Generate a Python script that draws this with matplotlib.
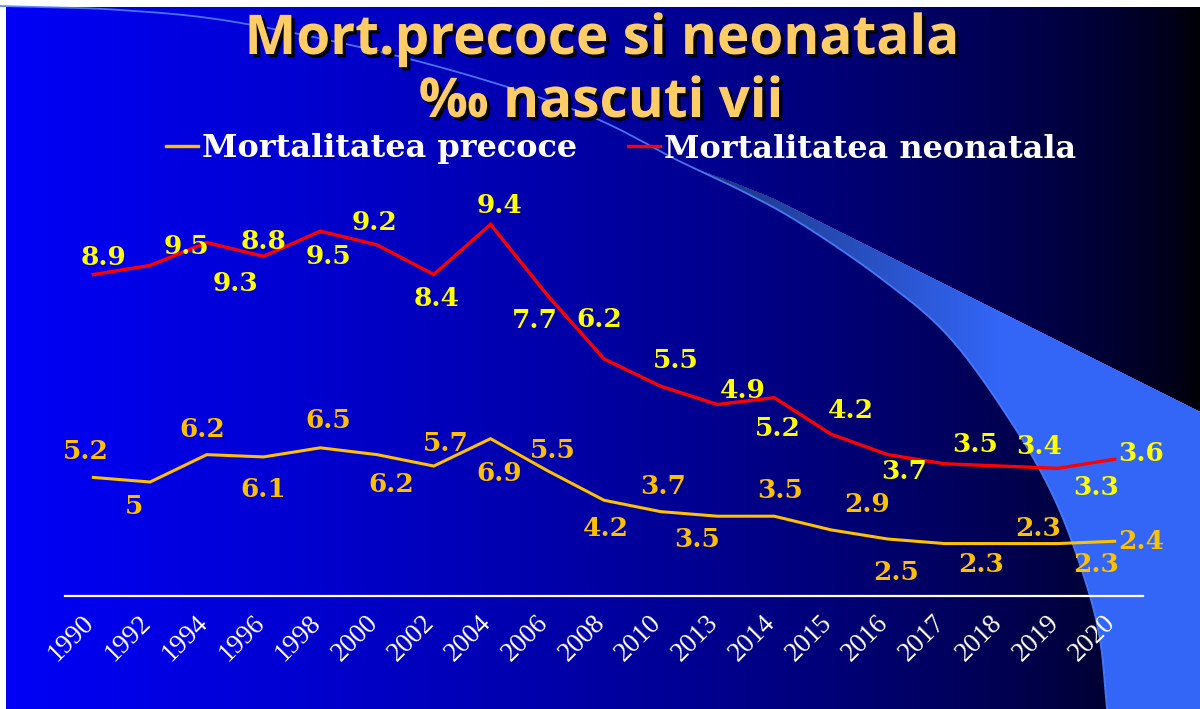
import numpy as np
import matplotlib
matplotlib.use("Agg")
import matplotlib.pyplot as plt
import matplotlib.patheffects as pe
import matplotlib.transforms as mtransforms
from matplotlib.lines import Line2D

# ---------------- data ----------------
years = ["1990", "1992", "1994", "1996", "1998", "2000", "2002", "2004", "2006", "2008",
         "2010", "2013", "2014", "2015", "2016", "2017", "2018", "2019", "2020"]
precoce = [5.2, 5, 6.2, 6.1, 6.5, 6.2, 5.7, 6.9, 5.5, 4.2, 3.7, 3.5, 3.5, 2.9, 2.5, 2.3, 2.3, 2.3, 2.4]
neonatala = [8.9, 9.5, 9.3, 8.8, 9.5, 9.2, 8.4, 9.4, 7.7, 6.2, 5.5, 4.9, 5.2, 4.2, 3.7, 3.5, 3.4, 3.3, 3.6]
series_names = ["Mortalitatea precoce", "Mortalitatea neonatala"]
title_lines = ["Mort.precoce si neonatala", "\u2030 nascuti vii"]

# ---------------- layout (label offsets in pixels: dx right, dy down) ----------------
prec_off = [(-8, -26), (-16, 24), (-5, -25), (0, 33), (8, -27), (14, 30), (12, -23), (9, 35), (6, -20),
            (2, 28), (2, -25), (-20, 23), (6, -26), (36, -25), (8, 34), (37, 21), (37, -15), (38, 21), (27, 0)]
neo_off = [(10, -17), (36, -19), (29, 41), (0, -15), (8, 25), (-3, -22), (3, 24), (9, -19), (-12, 25),
           (-5, -39), (15, -26), (25, -14), (4, 31), (20, -24), (16, 17), (31, -19), (38, -20), (38, 19), (26, -6)]

W, H = 1200, 709
fig = plt.figure(figsize=(12, 7.09), dpi=100)


def catmull(px, py, n=24):
    px = np.concatenate([[2 * px[0] - px[1]], px, [2 * px[-1] - px[-2]]])
    py = np.concatenate([[2 * py[0] - py[1]], py, [2 * py[-1] - py[-2]]])
    ox, oy = [], []
    tt = np.linspace(0, 1, n, endpoint=False)
    for i in range(1, len(px) - 2):
        for arr, o in ((px, ox), (py, oy)):
            p0, p1, p2, p3 = arr[i - 1], arr[i], arr[i + 1], arr[i + 2]
            o.extend(0.5 * ((2 * p1) + (-p0 + p2) * tt + (2 * p0 - 5 * p1 + 4 * p2 - p3) * tt ** 2
                            + (-p0 + 3 * p1 - 3 * p2 + p3) * tt ** 3))
    ox.append(px[-2]); oy.append(py[-2])
    return np.array(ox), np.array(oy)


# ---------------- background ----------------
bg = fig.add_axes([0, 0, 1, 1])
bg.set_axis_off()
yy, xx = np.mgrid[0:H, 0:W].astype(float)
t = np.clip((xx - 6) / (W - 6), 0, 1)
img = np.zeros((H, W, 3))
img[..., 2] = 0.97 * (1 - t) ** 0.62

arc_px = np.array([0, 120, 241, 421, 580, 677, 740, 800, 883, 950, 1013, 1055, 1085, 1100, 1107])
arc_py = np.array([6, 10, 23, 62, 112, 160, 190, 223, 280, 338, 425, 500, 580, 640, 709])
ax_s, ay_s = catmull(arc_px, arc_py)
xarc = np.interp(yy, ay_s, ax_s)
yarc_x = np.interp(xx, ax_s, ay_s)
y0 = np.interp(780, ax_s, ay_s) - 10
line_main = y0 + 0.5 * (xx - 780)
taper = yarc_x - 10 * np.clip((xx - 690) / 90, 0, 1)
line_y = np.where(xx >= 780, line_main, taper)
light = (xx > xarc) & (yy > line_y) & (xx >= 690)
f = np.clip(0.55 + 0.45 * (xx - 720) / 280, 0.55, 1.0)
for c, v in enumerate((0.2, 0.4, 0.97)):
    ch = img[..., c]
    ch[light] = (v * f)[light]
img[:7, :, :] = 1.0
img[:, :6, :] = 1.0
bg.imshow(img, extent=(0, W, H, 0), aspect="auto", interpolation="bilinear")
bg.plot(ax_s, ay_s, color="#4d80ff", lw=1.3, alpha=0.9)
bg.set_xlim(0, W)
bg.set_ylim(H, 0)

# ---------------- chart ----------------
px_per_unit = 22.8
ax_top = 186
ax = fig.add_axes([65 / W, (H - 596) / H, 1078 / W, (596 - ax_top) / H])
ax.patch.set_alpha(0)
x = np.arange(len(years))
stacked = np.add(precoce, neonatala)
ax.plot(x, precoce, color="#FFC000", lw=2.2, solid_joinstyle="miter")
ax.plot(x, stacked, color="#FF0000", lw=2.4, solid_joinstyle="miter")
ax.set_xlim(-0.5, len(years) - 0.5)
ax.set_ylim(0, (596 - ax_top) / px_per_unit)
for s in ("top", "left", "right"):
    ax.spines[s].set_visible(False)
ax.spines["bottom"].set_color("white")
ax.spines["bottom"].set_linewidth(1.6)
ax.set_yticks([])
ax.set_xticks(x)
ax.set_xticklabels(years, rotation=45, ha="right", color="white", fontsize=19.5,
                   family=["Liberation Serif", "DejaVu Serif"])
ax.tick_params(axis="x", length=0, pad=10)
shift = mtransforms.ScaledTranslation(6 / 100, 0, fig.dpi_scale_trans)
for lab in ax.get_xticklabels():
    lab.set_transform(lab.get_transform() + shift)

lab_font = dict(family="DejaVu Serif", weight="bold", fontsize=19, ha="center", va="center")
for i, v in enumerate(precoce):
    dx, dy = prec_off[i]
    ax.annotate(f"{v:g}", (x[i], v), xytext=(dx, -dy), textcoords="offset pixels",
                color="#FFC000", annotation_clip=False, **lab_font)
for i, v in enumerate(neonatala):
    dx, dy = neo_off[i]
    ax.annotate(f"{v:g}", (x[i], stacked[i]), xytext=(dx, -dy), textcoords="offset pixels",
                color="#FFFF00", annotation_clip=False, **lab_font)

# ---------------- legend ----------------
handles = [Line2D([0], [0], color="#FFC000", lw=2.4), Line2D([0], [0], color="#FF0000", lw=2.4)]
fig.legend(handles, series_names, loc="center", bbox_to_anchor=(621 / W, (H - 149) / H),
           ncol=2, frameon=False, handlelength=1.0, handletextpad=0.12, columnspacing=1.6,
           labelcolor="white", prop=dict(family="DejaVu Serif", weight="bold", size=23))

# ---------------- title ----------------
shadow = [pe.withSimplePatchShadow(offset=(2.4, -2.4), shadow_rgbFace="black", alpha=1.0)]
tfont = dict(family=["Open Sans", "DejaVu Sans"], weight="bold", fontsize=39.5, color="#FFCC66",
             ha="center", va="baseline")
fig.text(602 / W, (H - 54) / H, title_lines[0], path_effects=shadow, **tfont)
fig.text(601 / W, (H - 117) / H, title_lines[1], path_effects=shadow, **tfont)

fig.savefig("out.png", dpi=100)
